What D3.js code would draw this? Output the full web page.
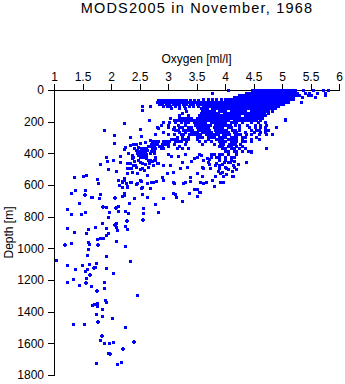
<!DOCTYPE html>
<html>
<head>
<meta charset="utf-8">
<script src="https://cdn.jsdelivr.net/npm/d3@7"></script>
<style>
  html, body { margin: 0; padding: 0; background: #fff; }
  svg { display: block; }
  text { font-family: "Liberation Sans", Arial, Helvetica, sans-serif; fill: #000; }
</style>
</head>
<body>
<svg id="chart" width="345" height="384"></svg>
<script>
// ---- Chart text and ticks ----
const chartTitle = "MODS2005 in November, 1968";
const xTitle = "Oxygen [ml/l]";
const yTitle = "Depth [m]";
const oxygenTicks = [1, 1.5, 2, 2.5, 3, 3.5, 4, 4.5, 5, 5.5, 6];
const depthTicks = [0, 200, 400, 600, 800, 1000, 1200, 1400, 1600, 1800];

// ---- Observations ----
// Dense upper-ocean core: each row is [depth (m), [oxygen (ml/l) ...]]
const coreRows = [
  [3,   [4.05, 4.47, 4.52, 4.57, 4.62, 4.67, 4.72, 4.77, 4.82, 4.87, 4.92, 4.97, 5.02, 5.07, 5.12, 5.17, 5.22, 5.36, 5.55, 5.72, 5.80]],
  [16,  [3.77, 4.36, 4.41, 4.46, 4.51, 4.56, 4.61, 4.66, 4.71, 4.76, 4.81, 4.86, 4.91, 4.96, 5.01, 5.06, 5.11, 5.16, 5.21, 5.26, 5.41, 5.48, 5.62, 5.76]],
  [30,  [4.25, 4.30, 4.35, 4.40, 4.45, 4.50, 4.55, 4.60, 4.65, 4.70, 4.75, 4.80, 4.85, 4.90, 4.95, 5.00, 5.05, 5.10, 5.15, 5.20, 5.25, 5.30, 5.45, 5.51, 5.75]],
  [44,  [4.15, 4.20, 4.25, 4.30, 4.35, 4.40, 4.45, 4.50, 4.55, 4.60, 4.65, 4.70, 4.75, 4.80, 4.85, 4.90, 4.95, 5.00, 5.05, 5.10, 5.15, 5.20, 5.35, 5.58]],
  [58,  [3.62, 3.70, 3.78, 3.85, 3.93, 4.00, 4.05, 4.10, 4.15, 4.20, 4.25, 4.30, 4.35, 4.40, 4.45, 4.50, 4.55, 4.60, 4.65, 4.70, 4.75, 4.80, 4.85, 4.90, 4.95, 5.00, 5.05, 5.10, 5.15, 5.20]],
  [65,  [2.82, 2.87, 2.92, 2.97, 3.02, 3.07, 3.12, 3.17, 3.22, 3.27, 3.32, 3.38, 3.45, 3.52]],
  [75,  [2.80, 2.85, 2.90, 2.95, 3.00, 3.05, 3.10, 3.15, 3.20, 3.25, 3.30, 3.35, 3.40, 3.45, 3.50, 3.55, 3.60, 3.65, 3.70, 3.75, 3.80, 3.85, 3.90, 3.95, 4.00, 4.05, 4.10, 4.15, 4.20, 4.25, 4.30, 4.35, 4.40, 4.45, 4.50, 4.55, 4.60, 4.65, 4.70, 4.75, 4.80, 4.85, 4.90, 4.95, 5.00, 5.05, 5.10, 5.33]],
  [88,  [2.84, 2.90, 2.96, 3.02, 3.08, 3.14, 3.20, 3.26, 3.32, 3.38, 3.44, 3.50, 3.56, 3.62, 3.67, 3.72, 3.77, 3.82, 3.87, 3.92, 3.97, 4.02, 4.07, 4.12, 4.17, 4.22, 4.27, 4.32, 4.37, 4.42, 4.47, 4.52, 4.57, 4.62, 4.67, 4.72, 4.77, 4.82, 4.87, 4.92, 4.97, 5.02]],
  [100, [2.92, 2.98, 3.04, 3.12, 3.20, 3.28, 3.36, 3.44, 3.52, 3.62, 3.67, 3.72, 3.77, 3.82, 3.87, 3.92, 3.97, 4.02, 4.07, 4.12, 4.17, 4.22, 4.27, 4.32, 4.37, 4.42, 4.47, 4.52, 4.57, 4.62, 4.67, 4.72, 4.77, 4.82, 4.87, 4.93]],
  [115, [3.05, 3.20, 3.30, 3.58, 3.63, 3.68, 3.78, 3.83, 3.88, 3.93, 3.98, 4.03, 4.08, 4.13, 4.18, 4.23, 4.28, 4.33, 4.38, 4.43, 4.48, 4.53, 4.58, 4.63, 4.68, 4.73, 4.78, 4.83, 4.88]],
  [130, [3.32, 3.60, 3.65, 3.70, 3.75, 3.80, 3.90, 3.95, 4.00, 4.10, 4.15, 4.20, 4.25, 4.30, 4.35, 4.45, 4.50, 4.55, 4.60, 4.65, 4.70, 4.75, 4.82]],
  [145, [3.25, 3.58, 3.63, 3.68, 3.73, 3.78, 3.83, 3.88, 3.98, 4.03, 4.08, 4.13, 4.18, 4.23, 4.28, 4.33, 4.38, 4.43, 4.48, 4.53, 4.58, 4.63, 4.68, 4.75]],
  [160, [3.20, 3.35, 3.55, 3.60, 3.65, 3.70, 3.75, 3.80, 3.85, 3.90, 3.95, 4.00, 4.05, 4.10, 4.15, 4.20, 4.25, 4.35, 4.40, 4.45, 4.50, 4.55, 4.60, 4.65, 4.70]],
  [175, [3.20, 3.25, 3.30, 3.35, 3.40, 3.50, 3.55, 3.60, 3.65, 3.70, 3.75, 3.80, 3.85, 3.90, 3.95, 4.00, 4.05, 4.10, 4.15, 4.20, 4.25, 4.30, 4.35, 4.40, 4.45, 4.50, 4.55, 4.60, 4.65]],
  [190, [3.10, 3.15, 3.20, 3.25, 3.30, 3.35, 3.40, 3.45, 3.50, 3.55, 3.60, 3.65, 3.70, 3.75, 3.80, 3.85, 3.90, 3.95, 4.00, 4.05, 4.15, 4.20, 4.25, 4.30, 4.35, 4.40, 4.45, 4.50, 4.55, 4.62, 5.06]],
  [205, [3.02, 3.12, 3.22, 3.30, 3.35, 3.45, 3.50, 3.55, 3.60, 3.65, 3.75, 3.80, 3.85, 3.90, 3.95, 4.00, 4.10, 4.15, 4.20, 4.30, 4.45, 4.58, 4.70]],
  [220, [2.88, 3.00, 3.18, 3.30, 3.48, 3.53, 3.58, 3.63, 3.68, 3.73, 3.83, 3.88, 3.93, 3.98, 4.03, 4.08, 4.18, 4.25, 4.38, 4.52, 4.62, 4.72]],
  [235, [3.00, 3.10, 3.20, 3.25, 3.35, 3.40, 3.50, 3.55, 3.60, 3.65, 3.70, 3.80, 3.85, 3.90, 3.95, 4.05, 4.10, 4.25, 4.42, 4.52, 4.62, 4.70, 4.89]],
  [250, [3.12, 3.17, 3.27, 3.32, 3.37, 3.42, 3.52, 3.57, 3.62, 3.67, 3.72, 3.82, 3.87, 3.92, 3.97, 4.02, 4.12, 4.17, 4.25, 4.45, 4.55, 4.60, 4.70, 4.75]],
  [265, [3.20, 3.30, 3.40, 3.45, 3.50, 3.60, 3.65, 3.70, 3.75, 3.85, 3.90, 3.95, 4.00, 4.05, 4.15, 4.20, 4.35, 4.50, 4.62, 4.70]],
  [280, [3.00, 3.10, 3.22, 3.27, 3.37, 3.42, 3.47, 3.52, 3.57, 3.67, 3.72, 3.77, 3.82, 3.87, 3.97, 4.02, 4.07, 4.17, 4.22, 4.27, 4.37, 4.45, 4.60, 4.72, 4.82]],
  [295, [3.15, 3.25, 3.35, 3.50, 3.55, 3.60, 3.70, 3.75, 3.80, 3.90, 3.95, 4.00, 4.10, 4.15, 4.20, 4.30, 4.35, 4.55]],
  [310, [3.05, 3.10, 3.15, 3.25, 3.30, 3.35, 3.50, 3.70, 3.85, 3.90, 3.95, 4.05, 4.10, 4.15, 4.20, 4.30, 4.45, 4.60]],
  [325, [2.72, 2.77, 2.82, 2.92, 2.97, 3.02, 3.12, 3.17, 3.22, 3.32, 3.55, 3.65, 3.75, 3.90, 3.95, 4.00, 4.10, 4.15, 4.20, 4.30, 4.35, 4.45]],
  [340, [2.70, 2.75, 2.80, 2.90, 2.95, 3.00, 3.10, 3.30, 3.60, 3.80, 3.92, 3.97, 4.07, 4.12, 4.17, 4.27]],
  [355, [2.65, 2.70, 2.75, 2.85, 2.90, 3.00, 3.20, 3.90, 3.95, 4.05, 4.10, 4.20, 4.30]],
  [368, [2.52, 2.57, 2.62, 2.72, 2.77, 2.87, 2.92, 3.15, 3.25, 3.35, 3.95, 4.00, 4.10, 4.15, 4.25, 4.35, 4.72]],
  [385, [2.50, 2.55, 2.60, 2.70, 2.75, 4.00, 4.05, 4.15, 4.20, 4.30, 4.40, 4.45]],
  [402, [2.50, 2.56, 2.62, 3.00, 3.30, 3.55, 3.75, 3.80, 3.90, 3.95, 4.05, 4.20]],
  [420, [2.50, 2.60, 3.50, 3.75, 3.85, 3.90, 4.00, 4.10, 4.15]],
  [440, [2.65, 2.75, 3.62, 3.90, 4.00, 4.10]],
  [455, [3.70, 3.98, 4.08, 4.37]]
];

// Scattered observations, 100-600 m, each [oxygen (ml/l), depth (m)]
const thermoclineObs = [
  [2.55, 101], [2.68, 101], [2.55, 126], [2.22, 210], [2.67, 189], [1.88, 253], [2.51, 248], [2.33, 299],
  [2.44, 341], [2.53, 291], [2.06, 282], [2.06, 337], [2.60, 327], [2.33, 349], [2.22, 375], [2.43, 379],
  [2.16, 417], [2.04, 442], [1.91, 425], [1.93, 447], [1.81, 467], [1.95, 501], [2.09, 510], [2.16, 453],
  [2.36, 411], [2.28, 463], [2.39, 474], [2.30, 495], [2.57, 421], [1.51, 543], [1.57, 537], [1.75, 564],
  [1.77, 589], [1.35, 551], [2.13, 568], [2.22, 568], [2.28, 526], [2.19, 611],
  [2.77, 280], [2.83, 242], [2.92, 263], [2.92, 204], [3.04, 179], [3.09, 246], [2.51, 337], [2.68, 316],
  [2.74, 347], [2.81, 232],
  [2.25, 358], [2.39, 343], [2.45, 379], [2.30, 400], [2.39, 421], [2.48, 411], [2.57, 390], [2.61, 421],
  [2.68, 400], [2.74, 379], [2.77, 421], [2.51, 453], [2.42, 474], [2.33, 463], [2.28, 495], [2.36, 516],
  [2.45, 526], [2.54, 495], [2.65, 484], [2.74, 474], [2.83, 463], [2.92, 474], [3.04, 474], [2.98, 526],
  [3.09, 520], [3.21, 495], [3.33, 484], [3.39, 548], [3.30, 579], [3.50, 526], [3.59, 484], [3.74, 495],
  [3.82, 474], [3.91, 526], [4.00, 484], [3.77, 568], [3.56, 579], [3.09, 579], [2.74, 579], [2.89, 548],
  [2.63, 537], [2.51, 568], [2.33, 579], [2.22, 558],
  [2.40, 365], [2.47, 360], [2.52, 372], [2.58, 368], [2.63, 380], [2.70, 385], [2.75, 395], [2.45, 395],
  [2.50, 405], [2.56, 412], [2.62, 430], [2.68, 440], [2.72, 450], [2.48, 440], [2.40, 450], [2.55, 460],
  [2.60, 470], [2.66, 462], [2.78, 440], [2.80, 460], [2.36, 430], [2.44, 485], [2.50, 500], [2.58, 505],
  [2.35, 490],
  [3.62, 492], [3.72, 469], [3.90, 474], [4.02, 490], [4.14, 474], [4.22, 469], [3.96, 541], [4.14, 541],
  [3.82, 543], [3.60, 543], [3.06, 417], [3.18, 417], [3.45, 427], [3.58, 411], [3.68, 427], [3.72, 437],
  [3.40, 447], [3.25, 455],
  [3.85, 460], [3.95, 465], [4.05, 455], [4.15, 450], [3.90, 490], [4.05, 500], [4.12, 510], [3.95, 520],
  [4.02, 530], [4.20, 500], [3.88, 510],
  [5.33, 78], [5.06, 181], [4.82, 280], [4.45, 390], [4.16, 484], [4.12, 541], [3.96, 579]
];

// Scattered observations, 560-900 m
const intermediateObs = [
  [2.14, 600], [2.20, 575], [2.28, 606], [2.35, 579], [2.43, 594], [2.52, 575], [2.55, 611], [2.63, 589],
  [2.70, 579], [2.68, 621], [1.54, 632], [1.65, 674], [2.22, 649], [2.20, 669], [2.64, 674], [1.96, 769],
  [2.13, 733], [2.24, 764], [2.31, 716], [1.55, 769], [1.85, 842], [1.60, 878], [1.94, 901],
  [1.30, 652], [1.37, 632], [1.66, 678], [1.79, 684], [1.81, 657], [2.22, 663], [2.41, 684], [2.54, 657],
  [2.77, 720], [2.92, 684], [1.22, 753], [1.44, 716], [1.30, 785], [1.47, 785], [1.91, 741], [2.13, 762],
  [2.56, 747], [2.56, 779], [2.29, 775], [1.95, 800], [1.72, 863], [1.92, 873], [2.09, 842], [2.09, 863],
  [2.25, 857], [2.28, 878], [1.23, 873],
  [2.19, 579], [2.26, 585], [2.45, 589], [2.79, 573], [2.92, 568], [3.11, 585], [3.27, 589], [3.39, 573],
  [3.46, 627], [3.55, 642], [3.61, 585], [3.67, 579], [3.81, 606], [3.91, 579], [2.28, 615], [2.52, 621],
  [3.12, 657], [3.14, 678], [3.36, 652], [3.51, 668], [3.25, 699], [2.83, 769], [3.09, 649], [3.56, 644],
  [3.50, 627]
];

// Scattered observations below 880 m
const deepObs = [
  [1.35, 895], [2.10, 884], [1.56, 905], [1.91, 916], [1.81, 937], [1.86, 933], [1.75, 943], [2.09, 952],
  [1.60, 959], [1.62, 975], [1.30, 964], [2.25, 985], [1.60, 1004], [1.58, 1042], [1.91, 1048], [1.04, 1074],
  [2.33, 1078], [1.22, 1105], [1.49, 1105], [1.62, 1099], [1.74, 1095], [1.72, 1116], [1.58, 1131], [1.92, 1126],
  [1.36, 1131], [1.54, 1141], [2.04, 1158], [1.56, 1189], [1.34, 1196], [1.88, 1211], [1.23, 1211], [1.44, 1232],
  [1.65, 1236], [1.88, 1250], [2.46, 1295], [1.90, 1326], [1.92, 1337], [1.66, 1358], [1.71, 1352], [1.75, 1347],
  [1.76, 1364], [1.85, 1385], [1.74, 1417], [1.85, 1427], [2.01, 1442], [1.34, 1478], [1.53, 1480], [2.25, 1499],
  [1.81, 1579], [1.88, 1600], [1.97, 1596], [2.04, 1594], [1.95, 1659], [1.73, 1726], [2.11, 1732], [2.18, 1716]
];

// Observations drawn with the cross symbol
const crossObs = [
  [1.55, 663], [2.07, 684], [1.86, 741], [2.08, 745], [2.28, 829], [2.56, 823], [2.07, 851], [1.19, 979],
  [1.78, 979], [1.70, 1122], [1.64, 1170], [1.57, 1221], [1.76, 1268], [1.77, 1467], [1.85, 1554], [2.41, 1594],
  [2.21, 1636], [1.98, 1669]
];

// ---- Layout ----
const svg = d3.select("#chart");
const margin = { left: 54, top: 90 };
const plotW = 285, plotH = 285;
const markColor = "#0000ff";

const x = d3.scaleLinear().domain([1, 6]).range([margin.left, margin.left + plotW]);
const y = d3.scaleLinear().domain([0, 1800]).range([margin.top, margin.top + plotH]);

// Title
svg.append("text")
  .attr("x", 197).attr("y", 13)
  .attr("text-anchor", "middle")
  .attr("font-size", 14.5)
  .attr("letter-spacing", 1.2)
  .text(chartTitle);

// Top oxygen axis
const xAxis = svg.append("g")
  .attr("transform", `translate(0,${margin.top})`)
  .call(d3.axisTop(x).tickValues(oxygenTicks).tickFormat(d3.format("")).tickSize(6).tickPadding(3));

// Left depth axis
const yAxis = svg.append("g")
  .attr("transform", `translate(${margin.left},0)`)
  .call(d3.axisLeft(y).tickValues(depthTicks).tickFormat(d3.format("d")).tickSize(6).tickPadding(4));

[xAxis, yAxis].forEach(g => {
  g.select(".domain").attr("stroke", "#000").attr("shape-rendering", "crispEdges");
  g.selectAll(".tick line").attr("stroke", "#000").attr("shape-rendering", "crispEdges");
  g.selectAll(".tick text").attr("font-size", 12).attr("fill", "#000")
    .attr("font-family", "'Liberation Sans', Arial, sans-serif");
});

// Axis titles
svg.append("text")
  .attr("x", margin.left + plotW / 2).attr("y", 63)
  .attr("text-anchor", "middle")
  .attr("font-size", 12)
  .text(xTitle);

svg.append("text")
  .attr("transform", `translate(13,${margin.top + plotH / 2}) rotate(-90)`)
  .attr("text-anchor", "middle")
  .attr("font-size", 12)
  .text(yTitle);

// ---- Marks ----
const squares = []
  .concat(coreRows.flatMap(([d, oxs]) => oxs.map(o => [o, d])))
  .concat(thermoclineObs, intermediateObs, deepObs);

const marks = svg.append("g").attr("shape-rendering", "crispEdges").attr("fill", markColor);

marks.selectAll("rect.obs")
  .data(squares)
  .join("rect")
  .attr("class", "obs")
  .attr("x", d => Math.round(x(d[0])) - 1)
  .attr("y", d => Math.round(y(d[1])) - 1)
  .attr("width", 3)
  .attr("height", 3);

// Thin plus symbol: a 4x4 cross with 2-px arms
const crosses = marks.selectAll("g.cross")
  .data(crossObs)
  .join("g")
  .attr("class", "cross")
  .attr("transform", d => `translate(${Math.round(x(d[0]))},${Math.round(y(d[1]))})`);
crosses.append("rect").attr("x", -2).attr("y", -1).attr("width", 4).attr("height", 2);
crosses.append("rect").attr("x", -1).attr("y", -2).attr("width", 2).attr("height", 4);
</script>
</body>
</html>
